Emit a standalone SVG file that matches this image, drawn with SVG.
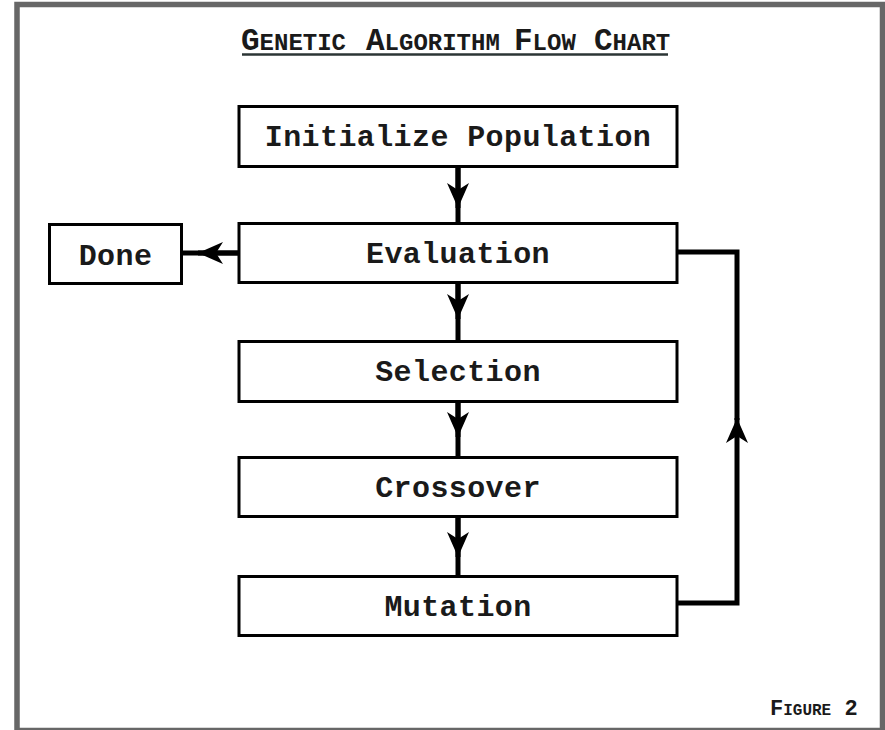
<svg xmlns="http://www.w3.org/2000/svg" width="885" height="730" viewBox="0 0 885 730">
<style>
.box{fill:#fff;stroke:#000;stroke-width:3}
.lbl{font-family:"Liberation Mono","DejaVu Sans Mono",monospace;font-weight:bold;font-size:30px;fill:#1a1a1a;text-anchor:middle;letter-spacing:0.4px}
.ttl{font-family:"Liberation Mono","DejaVu Sans Mono",monospace;font-weight:bold;fill:#1a1a1a}
.cn{fill:none;stroke:#000;stroke-width:5;stroke-linejoin:miter}
</style>
<defs>
<marker id="ah" markerUnits="userSpaceOnUse" viewBox="-26 -12 28 24" markerWidth="28" markerHeight="24" refX="0" refY="0" orient="auto" overflow="visible">
<path d="M0,0 L-25,-11 L-18,0 L-25,11 Z" fill="#000"/>
</marker>
</defs>
<rect x="0" y="0" width="885" height="730" fill="#fff"/>
<rect x="17" y="4.5" width="865.5" height="726" fill="#fff" stroke="#676767" stroke-width="5.5"/>

<g id="title">
<text class="ttl" y="50"><tspan x="241" font-size="31">G</tspan><tspan font-size="24">ENETIC</tspan><tspan x="366" font-size="31">A</tspan><tspan font-size="24">LGORITHM</tspan><tspan x="514" font-size="31">F</tspan><tspan font-size="24">LOW</tspan><tspan x="594" font-size="31">C</tspan><tspan font-size="24">HART</tspan></text>
<line x1="242" y1="54.5" x2="668" y2="54.5" stroke="#2b3535" stroke-width="2.5"/>
</g>

<g id="connectors">
<path class="cn" d="M458,168 V222"/>
<path class="cn" d="M458,168 V208" marker-end="url(#ah)"/>
<path class="cn" d="M458,284 V340"/>
<path class="cn" d="M458,284 V319" marker-end="url(#ah)"/>
<path class="cn" d="M458,403 V456"/>
<path class="cn" d="M458,403 V437" marker-end="url(#ah)"/>
<path class="cn" d="M458,518 V575"/>
<path class="cn" d="M458,518 V557" marker-end="url(#ah)"/>
<path class="cn" d="M238,253 H183"/>
<path class="cn" d="M238,253 H198" marker-end="url(#ah)"/>
<path class="cn" d="M678,603 H737 V418" marker-end="url(#ah)"/>
<path class="cn" d="M737,420 V252 H678"/>
</g>

<g id="init">
<rect class="box" x="239" y="106.5" width="438" height="60"/>
<text class="lbl" x="458" y="146">Initialize Population</text>
</g>
<g id="evaluation">
<rect class="box" x="239" y="223.5" width="438" height="59"/>
<text class="lbl" x="458" y="263">Evaluation</text>
</g>
<g id="done">
<rect class="box" x="49.5" y="224.5" width="132" height="59"/>
<text class="lbl" x="115.5" y="265">Done</text>
</g>
<g id="selection">
<rect class="box" x="239" y="341.5" width="438" height="60"/>
<text class="lbl" x="458" y="381">Selection</text>
</g>
<g id="crossover">
<rect class="box" x="239" y="457.5" width="438" height="59"/>
<text class="lbl" x="458" y="497">Crossover</text>
</g>
<g id="mutation">
<rect class="box" x="239" y="576.5" width="438" height="59"/>
<text class="lbl" x="458" y="616">Mutation</text>
</g>

<g id="figure">
<text class="ttl" y="715"><tspan x="770" font-size="22">F</tspan><tspan font-size="16">IGURE</tspan><tspan font-size="22"> 2</tspan></text>
</g>
</svg>
